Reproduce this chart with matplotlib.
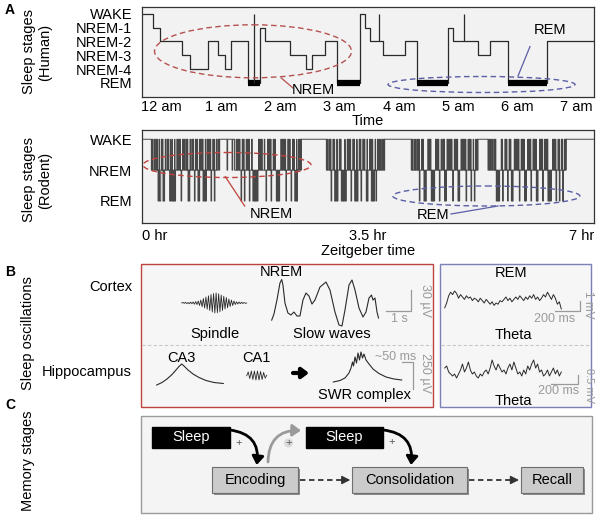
import numpy as np
import matplotlib
matplotlib.use("Agg")
import matplotlib.pyplot as plt
from matplotlib.patches import Ellipse, Rectangle, FancyArrowPatch

plt.rcParams["font.family"] = ["Liberation Sans", "DejaVu Sans"]

W, H = 600, 519

# ---------------- panel A: human hypnogram (hours after 12 am) ----------------
HUMAN_STAGES = ["REM", "NREM-4", "NREM-3", "NREM-2", "NREM-1", "WAKE"]
human_t = [-0.33, -0.15, -0.03, 0.34, 0.47, 0.78, 0.95, 1.07, 1.17, 1.46, 1.65, 1.74,
           2.16, 2.44, 2.54, 2.75, 2.96, 3.34, 3.43, 3.52, 3.73, 4.10, 4.31, 4.82,
           4.91, 5.33, 5.53, 5.84, 6.50]
human_stage = ["WAKE", "NREM-1", "NREM-2", "NREM-3", "NREM-4", "NREM-2", "NREM-3",
               "NREM-4", "NREM-2", "REM", "NREM-1", "NREM-2", "NREM-3", "NREM-4",
               "NREM-3", "NREM-2", "REM", "WAKE", "NREM-1", "NREM-2", "NREM-3",
               "NREM-2", "REM", "NREM-1", "NREM-2", "NREM-3", "NREM-2", "REM", "NREM-2"]
human_end = 7.29
human_spikes = [1.55, 3.66, 5.10]          # brief awakenings
human_ticklabels = ["12 am", "1 am", "2 am", "3 am", "4 am", "5 am", "6 am", "7 am"]

# ---------------- panel A: rodent hypnogram (minutes) ----------------
RODENT_STAGES = ["REM", "NREM", "WAKE"]
rodent_sleep = [(8.7, 70.6), (86.0, 148.0), (171.3, 225.5), (250.2, 312.2), (321.5, 394.0)]
rodent_dips = [(71.5, 72.2), (79.0, 79.6), (83.7, 84.3)]
rodent_wake = [
    9.5, 11.2, 12.8, 14.1, 16.0, 17.9, 19.0, 21.6, 23.3, 24.5, 26.8, 28.2, 30.1, 32.4,
    33.9, 35.2, 37.6, 39.0, 40.7, 42.1, 44.6, 46.3, 47.5, 49.8, 51.2, 53.6, 55.0, 56.3,
    58.7, 60.5, 62.0, 63.4, 65.8, 67.1, 69.0,
    87.5, 89.0, 90.6, 93.1, 94.4, 96.8, 98.2, 99.5, 101.9, 104.4, 105.6, 108.3, 109.7,
    111.2, 113.6, 116.8, 118.1, 119.5, 121.9, 123.4, 126.3, 129.0, 130.4, 131.8, 133.0,
    135.5, 137.2, 139.9, 141.0, 143.4, 145.6, 147.0,
    172.2, 173.8, 175.1, 177.4, 178.6, 180.9, 183.3, 184.5, 186.8, 188.2, 190.7, 192.0,
    193.4, 195.9, 197.0, 199.3, 201.8, 202.9, 205.2, 206.6, 208.9, 211.4, 212.6, 214.3,
    216.6, 218.9, 220.2, 221.8, 223.5, 224.8,
    251.0, 252.7, 254.3, 256.1, 257.4, 259.8, 261.0, 263.3, 265.6, 266.9, 268.0, 270.4,
    272.8, 274.1, 275.3, 277.9, 279.5, 280.6, 283.4, 285.0, 286.3, 287.6, 290.2, 291.5,
    292.8, 296.4, 297.9, 299.1, 300.5, 302.9, 304.2, 305.4, 307.7, 309.9, 311.3,
    322.3, 323.9, 325.4, 327.0, 328.3, 330.6, 333.8, 335.0, 337.2, 338.6, 341.1, 342.3,
    345.9, 347.2, 348.4, 349.8, 352.3, 353.6, 354.8, 358.4, 359.6, 360.8, 363.3, 364.7,
    365.9, 369.4, 370.7, 371.9, 374.1, 375.5, 376.6, 381.6, 382.8, 384.1, 386.5, 387.7,
    389.6, 390.4, 392.5, 393.4]
rodent_rem = [
    (14.9, 15.6), (16.2, 17.4), (19.5, 20.1), (20.5, 21.0), (25.7, 26.4), (26.9, 27.8),
    (28.3, 29.1), (29.6, 30.3), (30.7, 31.2), (36.3, 36.9), (42.8, 43.4), (43.8, 44.4),
    (48.7, 49.3), (52.0, 52.7), (53.1, 53.6), (56.7, 57.5), (58.0, 58.8), (59.2, 59.9),
    (64.1, 64.7), (67.2, 67.8),
    (92.0, 92.6), (95.1, 95.7), (99.7, 100.3), (103.0, 103.8), (104.3, 105.1),
    (105.5, 106.4), (106.9, 107.8), (115.2, 115.8), (119.9, 120.5), (124.8, 125.6),
    (126.1, 126.9), (127.3, 127.9), (133.7, 134.3), (138.5, 139.1), (141.9, 142.7),
    (143.2, 143.8), (144.1, 144.5),
    (175.7, 176.3), (179.0, 179.8), (180.3, 181.0), (181.5, 182.1), (185.2, 186.0),
    (186.5, 187.3), (187.8, 188.6), (189.1, 189.9), (194.2, 194.8), (197.6, 198.4),
    (198.9, 199.7), (200.1, 200.7), (203.5, 204.1), (208.4, 209.1), (209.5, 210.0),
    (213.1, 213.9), (214.4, 215.2), (215.6, 216.0), (217.4, 218.0),
    (257.7, 258.3), (262.0, 262.7), (263.2, 264.2), (268.8, 269.6), (270.1, 270.9),
    (271.3, 271.9), (276.3, 276.9), (281.2, 281.9), (282.3, 282.8), (288.7, 289.3),
    (293.6, 294.3), (294.7, 295.2), (301.1, 301.7), (305.7, 306.3), (308.8, 309.4),
    (329.2, 330.0), (330.5, 331.3), (331.7, 332.3), (335.1, 335.7), (339.7, 340.3),
    (343.2, 343.9), (344.3, 344.8), (350.6, 351.2), (355.5, 356.2), (356.6, 357.1),
    (361.4, 362.0), (366.4, 367.1), (367.5, 368.0), (372.3, 372.9), (377.2, 378.0),
    (378.5, 379.3), (379.8, 380.3), (384.7, 385.3), (387.8, 388.4), (390.9, 391.5)]
rodent_ticks = [0, 210, 420]
rodent_ticklabels = ["0 hr", "3.5 hr", "7 hr"]

# ---------------- panel B: example traces ----------------
spindle_v = [0.0, 0.06, -0.04, 0.07, -0.06, 0.05, -0.08, 0.09, -0.07, 0.1, -0.12, 0.14,
             -0.15, 0.2, -0.25, 0.3, -0.38, 0.45, -0.5, 0.6, -0.62, 0.72, -0.75, 0.85,
             -0.9, 0.95, -1.0, 1.0, -0.97, 0.92, -0.88, 0.8, -0.75, 0.68, -0.6, 0.55,
             -0.48, 0.4, -0.35, 0.3, -0.25, 0.2, -0.15, 0.12, -0.1, 0.1, -0.07, 0.08,
             -0.05, 0.05, -0.03, 0.0]
slow_t = [0, 0.09, 0.21, 0.33, 0.4, 0.45, 0.53, 0.65, 0.77, 0.89, 1.01, 1.13, 1.25, 1.37,
          1.49, 1.61, 1.73, 1.93, 2.17, 2.33, 2.53, 2.69, 2.81, 2.93, 3.09, 3.21, 3.33,
          3.49, 3.65, 3.77, 3.89, 3.99, 4.05, 4.13, 4.21, 4.27]
slow_v = [-14, -5.6, 13.9, 37.5, 42.4, 34.7, 9.7, -4.2, -6.9, -2.8, -8.3, -8.3, 13.9, 23.6,
          19.4, 8.3, 13.9, 31.9, 38.9, 27.8, -2.8, -20.8, -22.2, 0, 34.7, 41.7, 27.8, 2.8,
          -9.7, -2.8, 16.7, 20.8, 13.9, 16.7, -2.8, -11.1]
ca3_t = [0, 5.3, 10.3, 15.3, 19.3, 22.3, 25, 27.3, 31.3, 36.3, 42.3, 49.3, 57.3, 66.6]
ca3_v = [0, 2.5, 6, 10.5, 15, 18.5, 21, 19, 15, 11, 7.5, 4.5, 2.5, 1.5]
ca1_v = [0.0, 0.8, -0.6, 1.0, -0.8, 1.0, -0.9, 1.0, -0.9, 0.9, -0.8, 0.7, -0.5, 0.1]
swr_t = [0, 6.7, 11.7, 15.7, 17.7, 19.2, 20.2, 21.7, 23.2, 24.7, 26.2, 27.7, 29.2, 30.7,
         32.7, 35.7, 39.7, 45.7, 52.7, 60.7, 68.4]
swr_v = [0, 1.5, 4, 9, 14, 20, 16, 25, 19, 29, 22, 30, 24, 28, 22, 18, 13, 8.5, 5, 3, 2]
theta1_v = [-0.6, -0.2, 0.4, 0.7, 0.5, 0.8, 0.6, 0.2, 0.5, 0.3, 0.1, 0.4, 0.2, 0.3, 0.0,
            0.2, 0.1, -0.1, 0.2, 0.0, -0.2, 0.1, -0.1, -0.3, -0.1, -0.4, -0.2, -0.3, 0.0,
            -0.1, 0.1, 0.3, 0.0, 0.2, -0.1, 0.1, 0.3, 0.1, 0.4, 0.2, 0.0, 0.3, 0.1, 0.4,
            0.2, 0.5, 0.1, 0.3, 0.0, 0.2, 0.5, 0.3, 0.7, 0.4, 0.1, 0.5, 0.2, -0.3, -0.1, -0.7]
theta2_v = [0.1, 0.15, 0.0, -0.05, -0.1, -0.05, -0.15, -0.05, 0.05, 0.2, 0.0, 0.1, 0.25,
            0.05, -0.05, 0.0, -0.1, -0.15, -0.05, -0.1, 0.0, 0.05, -0.05, 0.1, 0.3, 0.15,
            0.05, 0.2, 0.1, 0.0, 0.05, -0.05, 0.1, 0.2, 0.05, 0.25, 0.1, -0.05, 0.0, -0.1,
            0.05, -0.05, 0.15, 0.05, 0.2, 0.3, 0.1, 0.2, 0.0, 0.05, -0.1, -0.05, 0.05,
            -0.1, 0.0, 0.1, -0.05, 0.05, -0.1, 0.0]

# ---------------- panel C: memory stages ----------------
memory_stages = ["Encoding", "Consolidation", "Recall"]

TRACE = "#2a2a2a"
GREY = "#9a9a9a"
RED = "#c0433f"
BLUE = "#5b5ea6"
FS = 10.5

fig = plt.figure(figsize=(W / 100, H / 100), dpi=100)


def px_axes(x0, y0, x1, y1, z=1):
    return fig.add_axes([x0 / W, 1 - y1 / H, (x1 - x0) / W, (y1 - y0) / H], zorder=z)


def overlay(z):
    a = fig.add_axes([0, 0, 1, 1], zorder=z)
    a.set_xlim(0, W)
    a.set_ylim(H, 0)
    a.axis("off")
    a.patch.set_alpha(0)
    return a


def style_hyp(ax):
    ax.set_facecolor("#f2f2f2")
    for sp in ax.spines.values():
        sp.set_color("#333333")
        sp.set_linewidth(0.9)


bg = overlay(0)
fg = overlay(10)

# ---- human hypnogram ----
ax = px_axes(142, 7, 594, 97)
style_hyp(ax)
lvl = {s: i for i, s in enumerate(HUMAN_STAGES)}
ys = [lvl[s] for s in human_stage]
ax.step(human_t + [human_end], ys + [ys[-1]], where="post", color=TRACE, lw=0.9)
ends = human_t[1:] + [human_end]
for t0, t1, s in zip(human_t, ends, human_stage):
    if s == "REM":
        ax.hlines(0, t0, t1, color="black", lw=4.5)
for t in human_spikes:
    i = np.searchsorted(human_t, t) - 1
    ax.vlines(t, ys[i], lvl["WAKE"], color=TRACE, lw=0.9)
ax.set_xlim(-0.332, 7.29)
ax.set_ylim(-1.01, 5.48)
ax.set_yticks(range(len(HUMAN_STAGES)))
ax.set_yticklabels(HUMAN_STAGES, fontsize=FS)
ax.set_xticks(range(len(human_ticklabels)))
ax.set_xticklabels(human_ticklabels, fontsize=FS)
ax.tick_params(axis="y", length=0, pad=7)
ax.tick_params(axis="x", length=0, pad=2.5)
ax.set_xlabel("Time", fontsize=FS, labelpad=0)

# ---- rodent hypnogram ----
ax2 = px_axes(142, 130, 594, 223)
style_hyp(ax2)
bouts = [(s, e, 1) for s, e in rodent_sleep]
brief = ([(s, e, 1) for s, e in rodent_dips] + [(t, t + 0.5, 2) for t in rodent_wake]
         + [(s, e, 0) for s, e in rodent_rem])
edges = sorted({0.0, 420.0, *[b for iv in bouts + brief for b in iv[:2]]})
stages = []
for a, b in zip(edges[:-1], edges[1:]):
    m = (a + b) / 2
    st = 2
    for s, e, v in bouts + brief:
        if s <= m < e:
            st = v
    stages.append(st)
ax2.step(edges, stages + [stages[-1]], where="post", color="#474747", lw=0.7)
ax2.set_xlim(0, 420)
ax2.set_ylim(-0.713, 2.30)
ax2.set_yticks(range(3))
ax2.set_yticklabels(RODENT_STAGES, fontsize=FS)
ax2.set_xticks(rodent_ticks)
ax2.set_xticklabels(rodent_ticklabels, fontsize=FS)
for lab, ha in zip(ax2.get_xticklabels(), ["left", "center", "right"]):
    lab.set_ha(ha)
ax2.tick_params(axis="y", length=0, pad=7)
ax2.tick_params(axis="x", length=0, pad=4)
ax2.set_xlabel("Zeitgeber time", fontsize=FS, labelpad=1)

# ---- annotations panel A ----
fg.add_patch(Ellipse((253, 51.3), 197, 53, fill=False, ec="#b5524f", ls=(0, (4, 2.5)), lw=1))
fg.plot([281.3, 293], [78, 88], color="#b5524f", lw=0.9)
fg.text(313, 90, "NREM", fontsize=FS, ha="center", va="center")
fg.add_patch(Ellipse((481.5, 84.5), 187, 16, fill=False, ec=BLUE, ls=(0, (4, 2.5)), lw=1))
fg.plot([518, 530], [76, 46.5], color=BLUE, lw=0.9)
fg.text(550, 30, "REM", fontsize=FS, ha="center", va="center")

fg.add_patch(Ellipse((227, 165), 168, 25, fill=False, ec=RED, ls=(0, (4, 2.5)), lw=1))
fg.plot([225.3, 244.7], [176.7, 206], color=RED, lw=0.9)
fg.text(271.3, 214, "NREM", fontsize=FS, ha="center", va="center")
fg.add_patch(Ellipse((486.3, 196), 187, 20, fill=False, ec=BLUE, ls=(0, (4, 2.5)), lw=1))
fg.plot([451, 498], [214, 206], color=BLUE, lw=0.9)
fg.text(433, 215, "REM", fontsize=FS, ha="center", va="center")

# ---- row labels ----
fg.text(10, 10, "A", fontsize=10, fontweight="bold", ha="center", va="center")
fg.text(10, 272, "B", fontsize=10, fontweight="bold", ha="center", va="center")
fg.text(10, 405, "C", fontsize=10, fontweight="bold", ha="center", va="center")
fg.text(37, 52, "Sleep stages\n(Human)", rotation=90, fontsize=FS, ha="center",
        va="center", multialignment="center", linespacing=1.25)
fg.text(37, 180, "Sleep stages\n(Rodent)", rotation=90, fontsize=FS, ha="center",
        va="center", multialignment="center", linespacing=1.25)
fg.text(28, 333, "Sleep oscillations", rotation=90, fontsize=FS, ha="center", va="center")
fg.text(28, 461, "Memory stages", rotation=90, fontsize=FS, ha="center", va="center")

# ---- panel B boxes ----
bg.add_patch(Rectangle((141, 263.5), 292, 143, fc="#f6f6f6", ec=RED, lw=1))
bg.add_patch(Rectangle((440, 263.5), 151, 143, fc="#f6f6f6", ec="#7d7fb8", lw=1))
for x0, x1 in [(142, 432), (441, 590)]:
    bg.plot([x0, x1], [345.3, 345.3], color="#c8c8c8", lw=0.8, ls=(0, (3, 2)))

fg.text(132, 287, "Cortex", fontsize=FS, ha="right", va="center")
fg.text(132, 372, "Hippocampus", fontsize=FS, ha="right", va="center")
fg.text(281.7, 272, "NREM", fontsize=FS, ha="center", va="center")
fg.text(215, 334, "Spindle", fontsize=FS, ha="center", va="center")
fg.text(331.7, 334, "Slow waves", fontsize=FS, ha="center", va="center")
fg.text(181.7, 358, "CA3", fontsize=FS, ha="center", va="center")
fg.text(256.7, 358, "CA1", fontsize=FS, ha="center", va="center")
fg.text(365, 395, "SWR complex", fontsize=FS, ha="center", va="center")
fg.text(511.3, 273, "REM", fontsize=FS, ha="center", va="center")
fg.text(513, 334.7, "Theta", fontsize=FS, ha="center", va="center")
fg.text(513, 400.7, "Theta", fontsize=FS, ha="center", va="center")
fg.annotate("", xy=(309, 373), xytext=(293, 373),
            arrowprops=dict(arrowstyle="-|>,head_width=0.3,head_length=0.4",
                            lw=3, color="black", shrinkA=0, shrinkB=0))

# scale bars
fg.plot([386, 411, 411], [311.3, 311.3, 289.7], color=GREY, lw=0.9)
fg.text(399.7, 319.5, "1 s", fontsize=9, color=GREY, ha="center", va="center")
fg.text(424.7, 301, "30 µV", fontsize=9, color=GREY, ha="center", va="center", rotation=-90)
fg.plot([402, 413, 413], [362, 362, 389], color=GREY, lw=0.9)
fg.text(396, 357, "~50 ms", fontsize=9, color=GREY, ha="center", va="center")
fg.text(424.7, 373, "250 µV", fontsize=9, color=GREY, ha="center", va="center", rotation=-90)
fg.plot([554.7, 579.7, 579.7], [310.7, 310.7, 301], color=GREY, lw=0.9)
fg.text(555, 319, "200 ms", fontsize=9, color=GREY, ha="center", va="center")
fg.text(588, 305, "1 mV", fontsize=8.5, color=GREY, ha="center", va="center", rotation=-90)
fg.plot([551, 578, 578], [384, 384, 375], color=GREY, lw=0.9)
fg.text(559, 391.5, "200 ms", fontsize=9, color=GREY, ha="center", va="center")
fg.text(588.5, 386, "0.5 mV", fontsize=8, color=GREY, ha="center", va="center", rotation=-90)


def trace(box, t, v, lw=0.8):
    a = px_axes(*box, z=5)
    a.plot(t, v, color=TRACE, lw=lw, clip_on=False)
    a.set_xlim(min(t), max(t))
    a.set_ylim(min(v), max(v))
    a.axis("off")
    a.patch.set_alpha(0)


trace((181.7, 293, 246.7, 313), np.arange(len(spindle_v)), spindle_v, lw=0.6)
trace((271.7, 279.5, 378.5, 326), slow_t, slow_v)
trace((156.7, 364, 223.3, 385), ca3_t, ca3_v)
trace((246.7, 371, 266.7, 380), np.arange(len(ca1_v)), ca1_v, lw=0.6)
trace((333.3, 352, 401.7, 382), swr_t, swr_v)
trace((444.7, 291, 561.3, 309), np.arange(len(theta1_v)), theta1_v, lw=0.7)
trace((444.7, 360, 561.3, 378), np.arange(len(theta2_v)), theta2_v, lw=0.7)

# ---- panel C ----
bg.add_patch(Rectangle((141, 415.7), 450.7, 97.6, fc="#f4f4f4", ec="#9a9a9a", lw=1))
for x0, x1 in [(151.7, 230), (305.7, 383.3)]:
    fg.add_patch(Rectangle((x0, 426.5), x1 - x0, 21.8, fc="black", ec="black"))
    fg.text((x0 + x1) / 2, 437.5, "Sleep", color="white", fontsize=FS, ha="center", va="center")
boxes = [(212.3, 297.7), (352.3, 466.7), (521, 583.3)]
for (x0, x1), name in zip(boxes, memory_stages):
    fg.add_patch(Rectangle((x0 + 2, 468.5), x1 - x0, 26.3, fc="#8c8c8c", ec="none"))
    fg.add_patch(Rectangle((x0, 466.7), x1 - x0, 26.3, fc="#cbcbcb", ec="#6e6e6e", lw=0.8))
    fg.text((x0 + x1) / 2, 480, name, fontsize=FS, ha="center", va="center")

for (x0, _), (x1, _) in [(boxes[0][::-1], boxes[1]), (boxes[1][::-1], boxes[2])]:
    fg.plot([x0 + 2, x1 - 9], [480, 480], color="#333333", lw=1.3, ls=(0, (3, 2)))
    fg.annotate("", xy=(x1 - 2, 480), xytext=(x1 - 9, 480),
                arrowprops=dict(arrowstyle="-|>,head_width=0.25,head_length=0.5",
                                lw=1, color="#333333", shrinkA=0, shrinkB=0))

for (xa, ya), (xb, yb), col in [((230, 430), (256.7, 465), "black"),
                                ((268, 462), (301, 430.5), "#9a9a9a"),
                                ((383.3, 430), (411, 465), "black")]:
    fg.add_patch(FancyArrowPatch((xa, ya), (xb, yb), connectionstyle="arc3,rad=-0.5",
                                 arrowstyle="-|>,head_width=3.5,head_length=5",
                                 color=col, lw=2, shrinkA=0, shrinkB=0))
fg.add_patch(Ellipse((288.5, 443), 9, 9, fc="#dadada", ec="none"))
for x, y in [(238.3, 443.3), (288.5, 443.3), (391.7, 441.7)]:
    fg.text(x, y, "+", fontsize=8, color="#555555", ha="center", va="center")

fig.savefig("out.png", dpi=100)
